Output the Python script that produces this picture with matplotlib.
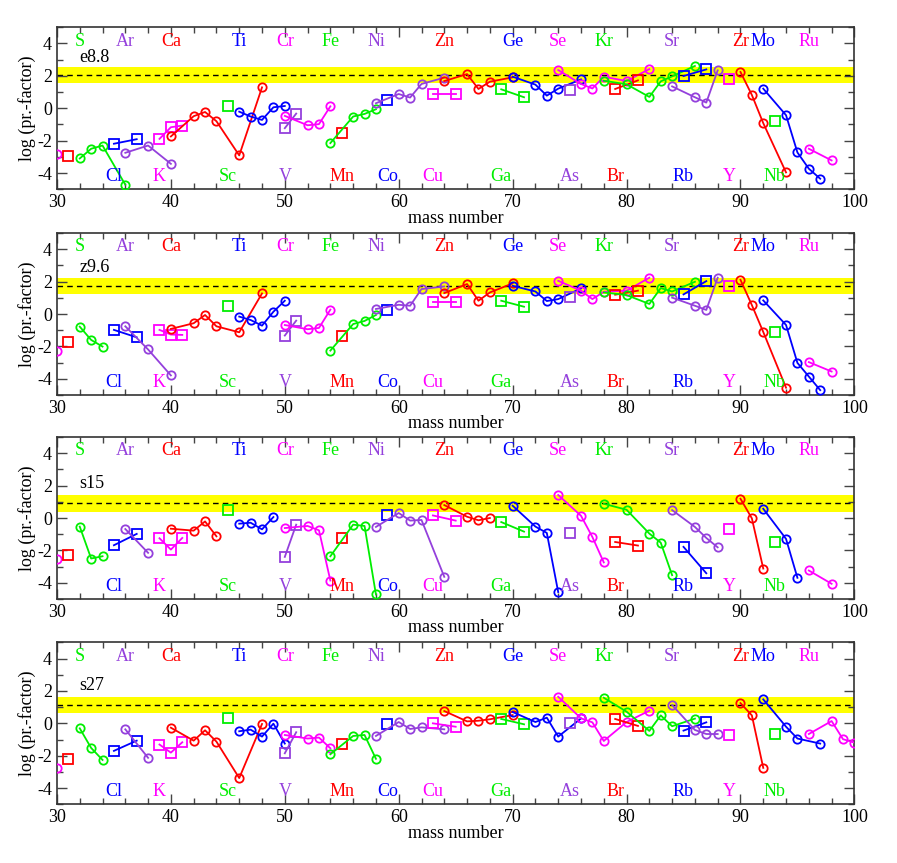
import numpy as np
import matplotlib.pyplot as plt

plt.rcParams['font.family'] = ['Liberation Serif', 'DejaVu Serif']
plt.rcParams['axes.unicode_minus'] = False
plt.rcParams['font.size'] = 13

nan = np.nan

elements = ['Si', 'P', 'S', 'Cl', 'Ar', 'K', 'Ca', 'Sc', 'Ti', 'V', 'Cr', 'Mn', 'Fe', 'Co',
            'Ni', 'Cu', 'Zn', 'Ga', 'Ge', 'As', 'Se', 'Br', 'Kr', 'Rb', 'Sr', 'Y', 'Zr', 'Nb',
            'Mo', 'Ru']
atomic_number = [14, 15, 16, 17, 18, 19, 20, 21, 22, 23, 24, 25, 26, 27, 28, 29, 30, 31, 32,
                 33, 34, 35, 36, 37, 38, 39, 40, 41, 42, 44]
isotopes = [[30], [31], [32, 33, 34, 36], [35, 37], [36, 38, 40], [39, 40, 41],
            [40, 42, 43, 44, 46, 48], [45], [46, 47, 48, 49, 50], [50, 51], [50, 52, 53, 54],
            [55], [54, 56, 57, 58], [59], [58, 60, 61, 62, 64], [63, 65], [64, 66, 67, 68, 70],
            [69, 71], [70, 72, 73, 74, 76], [75], [74, 76, 77, 78, 80, 82], [79, 81],
            [78, 80, 82, 83, 84, 86], [85, 87], [84, 86, 87, 88], [89], [90, 91, 92, 94], [93],
            [92, 94, 95, 96, 97], [96, 98, 99, 100]]

# log production factors, same order as isotopes
pf_e88 = [[-2.81], [-2.97], [-3.10, -2.50, -2.30, -4.72], [-2.19, -1.91], [-2.75, -2.30, -3.43],
          [-1.89, -1.17, -1.07], [-1.74, -0.49, -0.23, -0.80, -2.91, 1.29], [0.16],
          [-0.21, -0.51, -0.72, 0.06, 0.14], [-1.23, -0.33], [-0.47, -1.05, -0.98, 0.12],
          [-1.50], [-2.15, -0.51, -0.35, -0.06], [0.51], [0.31, 0.88, 0.66, 1.50, 1.89],
          [0.90, 0.90], [1.68, 2.11, 1.19, 1.64, 1.91], [1.17, 0.68],
          [1.95, 1.46, 0.78, 1.21, 1.78], [1.13], [2.36, 1.50, 1.22, 1.95, 1.68, 2.42],
          [1.19, 1.72], [1.70, 1.48, 0.70, 1.66, 1.97, 2.61], [1.99, 2.40],
          [1.35, 0.68, 0.35, 2.34], [1.78], [2.24, 0.82, -0.92, -3.96], [-0.76],
          [1.21, -0.43, -2.73, -3.73, -4.35], [-2.50, -3.22, nan, nan]]
pf_z96 = [[-2.26], [-1.70], [-0.78, -1.60, -2.01, nan], [-0.98, -1.44], [-0.76, -2.19, -3.79],
          [-0.98, -1.27, -1.29], [-0.92, -0.57, -0.06, -0.76, -1.13, 1.27], [0.51],
          [-0.16, -0.37, -0.72, 0.14, 0.82], [-1.33, -0.41], [-0.68, -0.94, -0.86, 0.27],
          [-1.33], [-2.26, -0.62, -0.43, -0.06], [0.25], [0.31, 0.57, 0.51, 1.54, 1.70],
          [0.76, 0.76], [1.29, 1.85, 0.82, 1.33, 1.89], [0.82, 0.45],
          [1.74, 1.39, 0.80, 0.92, 1.58], [1.03], [2.05, 1.44, 0.92, 1.37, 1.44, 2.24],
          [1.19, 1.44], [1.33, 1.17, 0.62, 1.60, 1.39, 1.99], [1.21, 2.03],
          [1.01, 0.51, 0.25, 2.24], [1.74], [2.11, 0.55, -1.11, -4.55], [-1.09],
          [0.84, -0.68, -3.02, -3.86, -4.70], [-2.97, -3.55, nan, nan]]
pf_s15 = [[-2.52], [-2.26], [-0.53, -2.50, -2.36, nan], [-1.68, -0.98], [-0.68, -2.15, nan],
          [-1.25, -1.95, -1.23], [-0.66, -0.78, -0.21, -1.13, nan, nan], [0.49],
          [-0.35, -0.29, -0.70, 0.06, nan], [-2.40, -0.41], [-0.62, -0.49, -0.76, -3.86],
          [-1.25], [-2.36, -0.41, -0.49, -4.72], [0.16], [-0.55, 0.31, -0.16, -0.12, -3.63],
          [0.16, -0.16], [0.80, 0.08, -0.14, 0.0, nan], [-0.25, -0.84],
          [0.76, -0.53, -0.92, -4.57, nan], [-0.92], [1.42, 0.14, -1.17, -2.74, nan, nan],
          [-1.48, -1.70], [0.88, 0.51, -0.96, -1.52, -3.53, nan], [-1.78, -3.41],
          [0.49, -0.55, -1.23, -1.81], [-0.66], [1.19, -0.02, -3.12, nan], [-1.48],
          [0.57, -1.29, -3.69, nan, nan], [-3.24, -4.06, nan, nan]]
pf_s27 = [[-2.73], [-2.19], [-0.31, -1.52, -2.26, nan], [-1.70, -1.07], [-0.37, -2.13, nan],
          [-1.31, -1.81, -1.17], [-0.27, -1.07, -0.43, -1.13, -3.38, -0.04], [0.31],
          [-0.49, -0.39, -0.82, -0.02, -1.25], [-1.85, -0.55], [-0.72, -0.94, -0.88, -1.54],
          [-1.27], [-1.91, -0.78, -0.72, -2.19], [-0.06], [-0.78, 0.08, -0.35, -0.25, -0.37],
          [0.0, -0.21], [0.76, 0.12, 0.16, 0.25, 0.51], [0.27, -0.06],
          [0.70, 0.08, 0.35, -0.82, 0.30], [0.02], [1.64, 0.31, 0.06, -1.09, 0.08, 0.78],
          [0.27, -0.16], [1.58, 0.72, -0.47, 0.49, -0.18, 0.29], [-0.45, 0.06],
          [1.13, -0.41, -0.66, -0.66], [-0.70], [1.25, 0.49, -2.75, nan], [-0.66],
          [1.48, -0.21, -0.94, nan, -1.25], [-0.66, 0.14, -0.98, -1.19]]

models = ['e8.8', 'z9.6', 's15', 's27']
model_data = [pf_e88, pf_z96, pf_s15, pf_s27]
mean_pf = [2.05, 1.72, 0.90, 1.15]
model_label_y = [3.15, 2.87, 2.10, 2.36]

# colour cycles with Z
cycle = {0: '#ff0000', 1: '#00ee00', 2: '#0000ff', 3: '#9440dc', 4: '#ff00ff'}

fig = plt.figure(figsize=(8.97, 8.63), dpi=100)
bottoms = [0.7807, 0.5423, 0.3059, 0.0680]

for k in range(4):
    ax = fig.add_axes([0.0635, bottoms[k], 0.889, 0.1877])
    ax.axhspan(mean_pf[k] - 0.5, mean_pf[k] + 0.5, color='#ffff00', lw=0, zorder=0)
    ax.axhline(mean_pf[k], color='black', ls='--', lw=1.0, dashes=(4, 3), zorder=1)

    for i, el in enumerate(elements):
        z = atomic_number[i]
        col = cycle[z % 5]
        m = np.array(isotopes[i], dtype=float)
        v = np.array(model_data[k][i], dtype=float)
        ok = ~np.isnan(v)
        if z % 2 == 0:
            ax.plot(m[ok], v[ok], '-o', color=col, mfc='none', mec=col, ms=6, mew=1.3,
                    lw=1.3, zorder=3)
        else:
            ax.plot(m[ok], v[ok], '-s', color=col, mfc='none', mec=col, ms=7, mew=1.3,
                    lw=1.3, zorder=3)
        if z >= 16:
            ypos = 4.15 if z % 2 == 0 else -4.2
            ax.text(isotopes[i][0], ypos, el, color=col, ha='center', va='center',
                    fontsize=13, zorder=4)

    ax.text(32, model_label_y[k], models[k], ha='left', va='center', fontsize=13, color='black')

    ax.set_xlim(30, 100)
    ax.set_ylim(-5, 5)
    ax.set_xticks(np.arange(30, 101, 10))
    ax.set_xticks(np.arange(30, 101, 2), minor=True)
    ax.set_yticks([-4, -2, 0, 2, 4])
    ax.set_yticks(np.arange(-5, 6, 1), minor=True)
    ax.tick_params(which='both', direction='in', top=True, right=True, color='#444444')
    ax.tick_params(which='major', length=7, width=1.0, labelsize=13)
    ax.tick_params(which='minor', length=4, width=1.0)
    for s in ax.spines.values():
        s.set_linewidth(1.2)
        s.set_color('#333333')
    ax.set_xlabel('mass number', fontsize=13, labelpad=-1)
    ax.set_ylabel('log (pr.-factor)', fontsize=13, labelpad=1)

fig.savefig('out.png', dpi=100)
